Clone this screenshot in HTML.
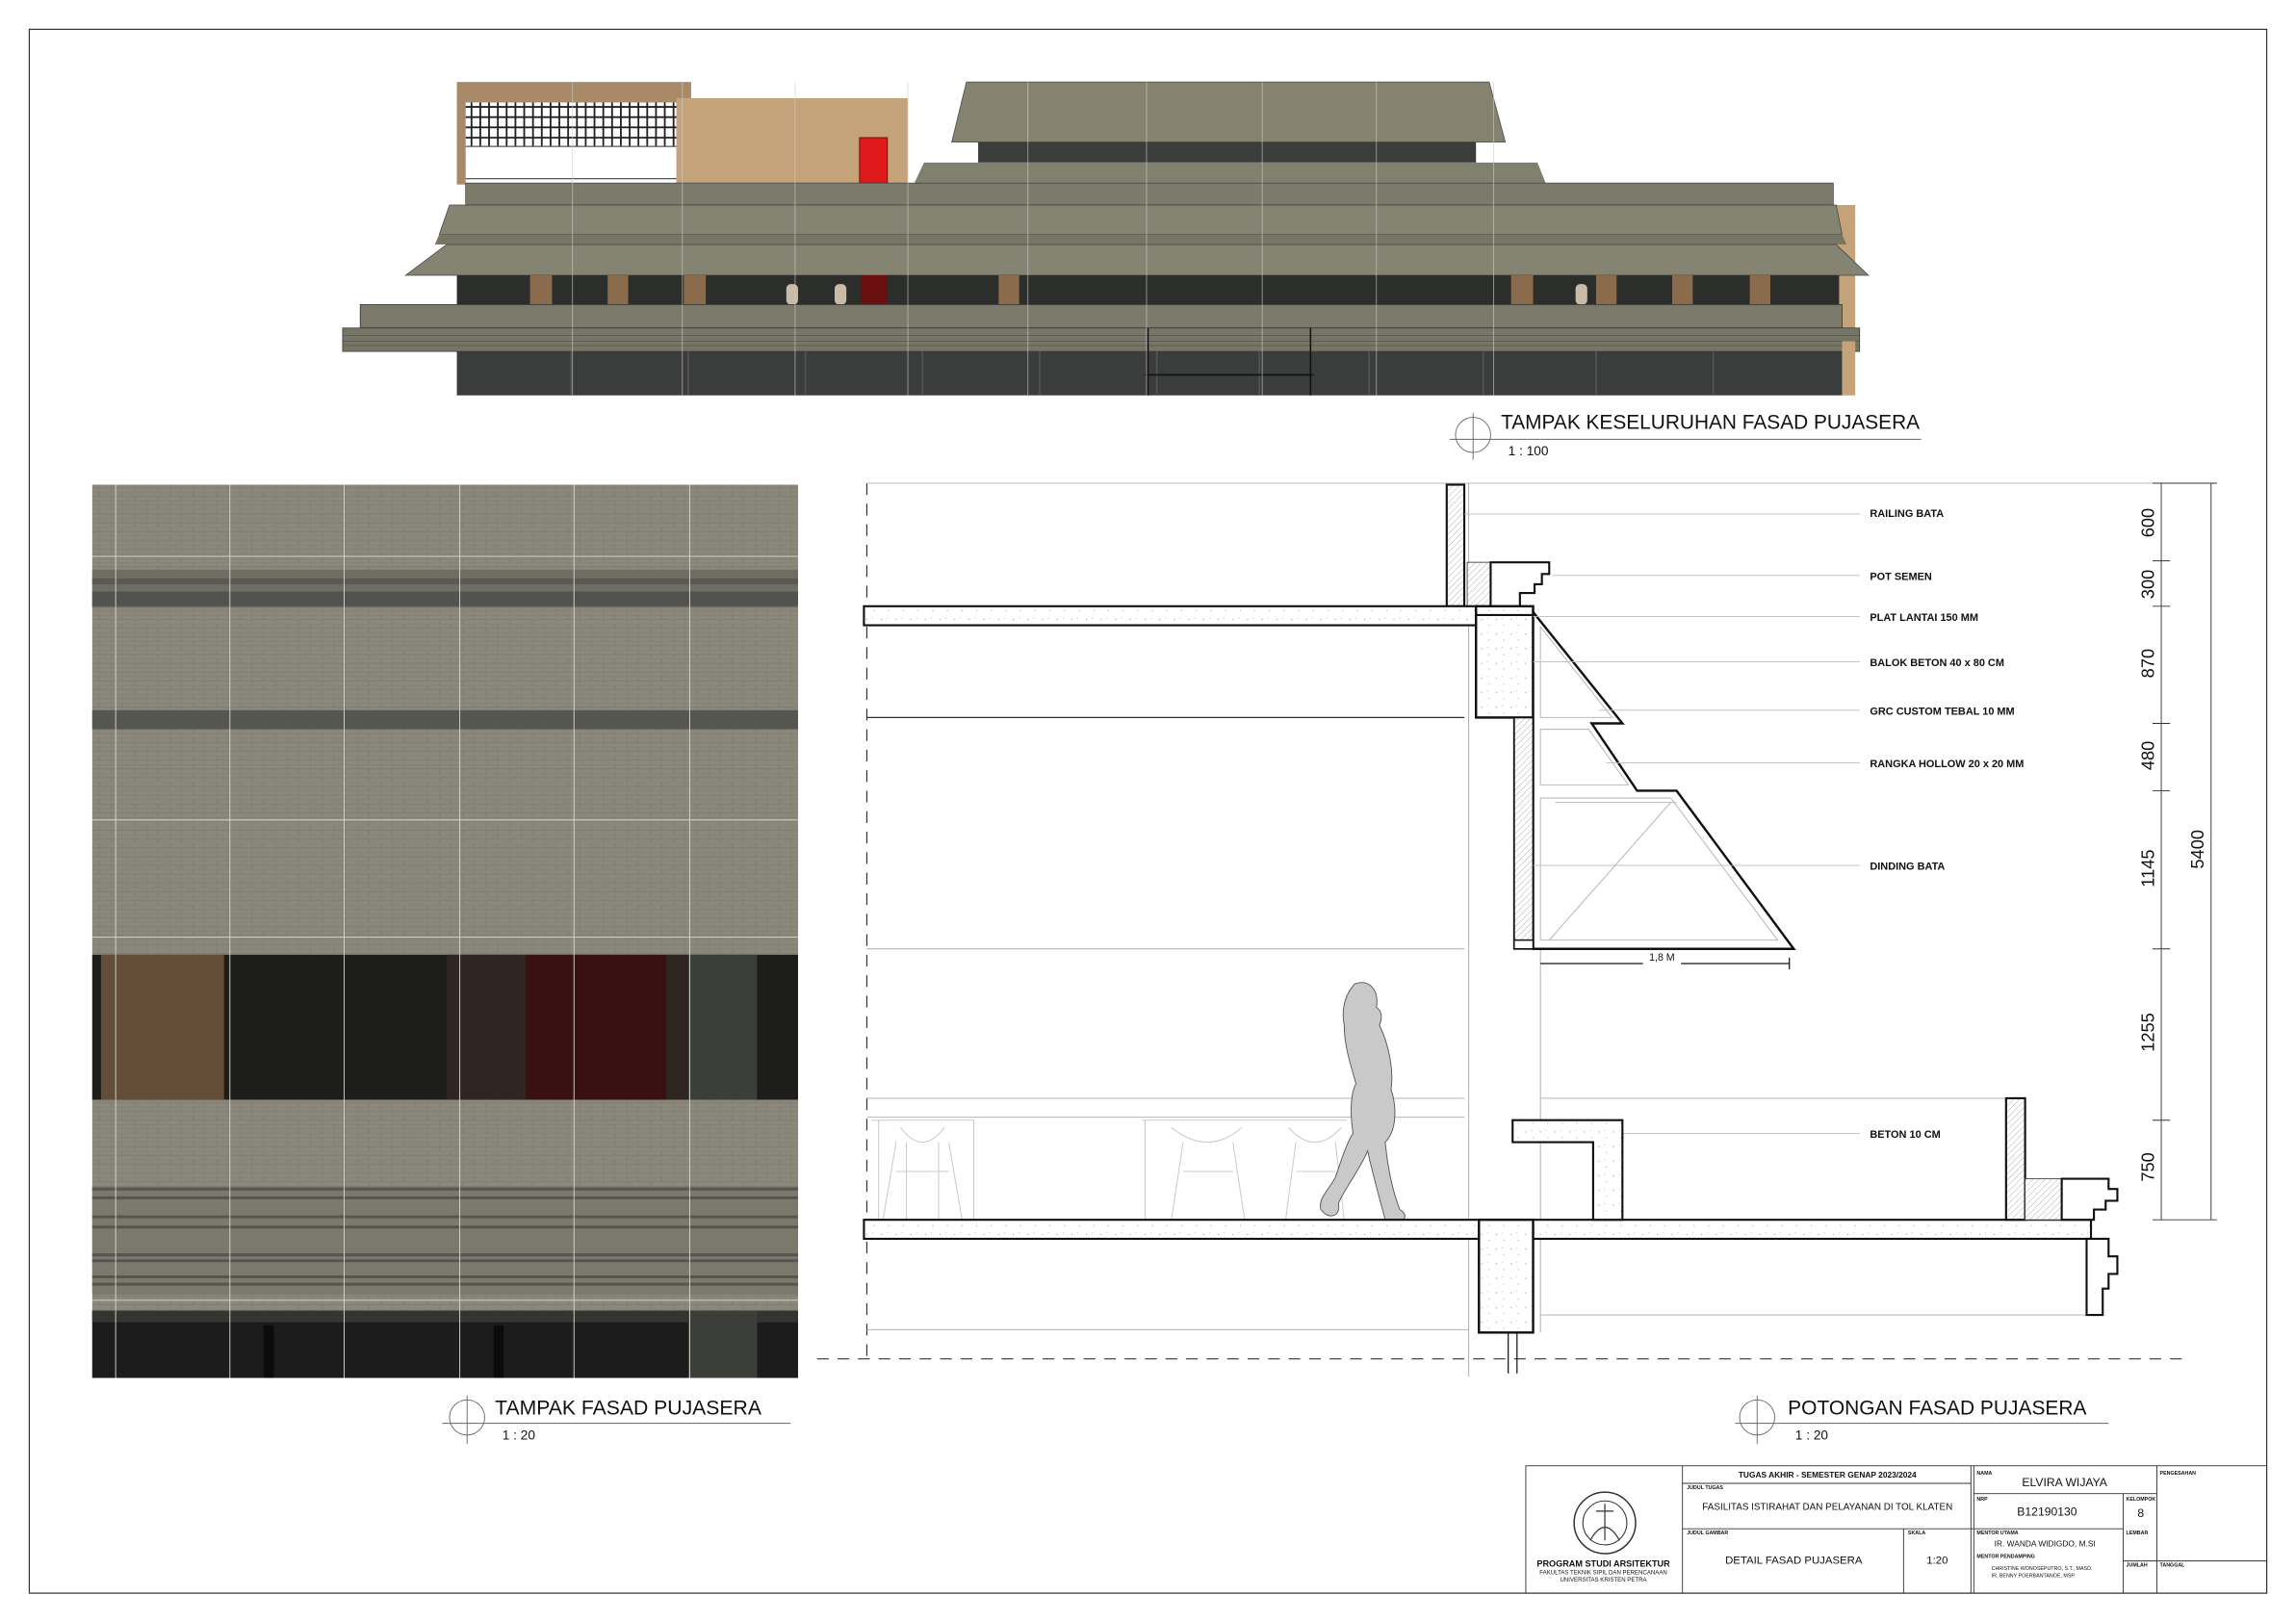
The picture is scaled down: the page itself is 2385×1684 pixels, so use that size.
<!DOCTYPE html>
<html><head><meta charset="utf-8"><style>
html,body{margin:0;padding:0;background:#fff;}
svg{display:block;}
text{font-family:"Liberation Sans",sans-serif;}
.lb{font-size:7.2px;font-weight:bold;fill:#111;}
.dim{font-size:12px;fill:#111;}
.ld{stroke:#bbb;stroke-width:0.6;}
</style></head><body>
<svg width="2385" height="1684" viewBox="0 0 1568 1107" preserveAspectRatio="none" xmlns="http://www.w3.org/2000/svg">
<defs>
<pattern id="brick" width="16" height="6" patternUnits="userSpaceOnUse">
<rect width="16" height="6" fill="#8a887a"/>
<path d="M0 0H16M0 3H16M4 0V3M12 3V6" stroke="#7d7b6e" stroke-width="0.5"/>
</pattern>
<pattern id="conc" width="10" height="10" patternUnits="userSpaceOnUse">
<rect width="10" height="10" fill="#fff"/>
<circle cx="2" cy="3" r="0.4" fill="#999"/><circle cx="7" cy="7" r="0.4" fill="#aaa"/><circle cx="6" cy="2" r="0.3" fill="#999"/>
</pattern>
<pattern id="hatch" width="3" height="3" patternUnits="userSpaceOnUse" patternTransform="rotate(45)">
<rect width="3" height="3" fill="#fff"/><line x1="0" y1="0" x2="0" y2="3" stroke="#999" stroke-width="0.5"/>
</pattern>
</defs>
<rect x="0" y="0" width="1568" height="1107" fill="#fff"/>
<rect x="20" y="20" width="1528" height="1068" fill="none" stroke="#333" stroke-width="0.8"/>

<!-- TOP ELEVATION -->
<g>
<rect x="312" y="56" width="160" height="70" fill="#a88a68"/>
<rect x="318" y="70" width="144" height="55" fill="#fff"/>
<g stroke="#222" stroke-width="1.2">
<path d="M318 73H462M318 80H462M318 87H462M318 94H462"/>
<path d="M322 70V100M328 70V100M334 70V100M340 70V100M346 70V100M352 70V100M358 70V100M364 70V100M370 70V100M376 70V100M382 70V100M388 70V100M394 70V100M400 70V100M406 70V100M412 70V100M418 70V100M424 70V100M430 70V100M436 70V100M442 70V100M448 70V100M454 70V100M460 70V100"/>
</g>
<path d="M318 100H462M318 122H462" stroke="#555" stroke-width="0.8"/>
<rect x="462" y="67" width="158" height="59" fill="#c5a37a"/>
<rect x="587" y="94" width="19" height="31" fill="#e01a1a" stroke="#700" stroke-width="0.6"/>
<polygon points="660,56 1017,56 1028,97 650,97" fill="#85836f" stroke="#555" stroke-width="0.6"/>
<rect x="668" y="97" width="340" height="14" fill="#3b3d3a"/>
<polygon points="631,111 1050,111 1056,126 624,126" fill="#80806e"/>
<rect x="318" y="125" width="934" height="15" fill="#7c7b6b" stroke="#444" stroke-width="0.5"/>
<rect x="1252" y="140" width="15" height="93" fill="#c5a37a"/>
<polygon points="307,140 1254,140 1258,160 300,160" fill="#858371" stroke="#444" stroke-width="0.5"/>
<polygon points="300,160 1258,160 1261,167 297,167" fill="#777665"/>
<polygon points="305,167 1254,167 1276,188 277,188" fill="#858371" stroke="#444" stroke-width="0.5"/>
<rect x="312" y="188" width="944" height="21" fill="#2c2e2c"/>
<g fill="#8a6c4c">
<rect x="362" y="188" width="15" height="20"/><rect x="415" y="188" width="14" height="20"/><rect x="467" y="188" width="15" height="20"/><rect x="682" y="188" width="14" height="20"/><rect x="1032" y="188" width="15" height="20"/><rect x="1090" y="188" width="14" height="20"/><rect x="1142" y="188" width="14" height="20"/><rect x="1195" y="188" width="14" height="20"/>
</g>
<rect x="588" y="188" width="18" height="20" fill="#6a1010"/>
<g fill="#c9bba5"><rect x="537" y="194" width="8" height="14" rx="3"/><rect x="570" y="194" width="8" height="14" rx="3"/><rect x="1076" y="194" width="8" height="14" rx="3"/></g>
<rect x="246" y="208" width="1012" height="16" fill="#7b7a6a" stroke="#333" stroke-width="0.5"/>
<rect x="234" y="224" width="1036" height="16" fill="#777665" stroke="#333" stroke-width="0.5"/>
<path d="M234 229H1270M234 233H1270M234 236H1270" stroke="#555" stroke-width="0.5"/>
<rect x="312" y="240" width="946" height="30" fill="#3b3c3c"/>
<rect x="1258" y="233" width="9" height="37" fill="#c5a37a"/>
<g stroke="#555" stroke-width="1"><path d="M390 240V270M470 240V270M550 240V270M630 240V270M710 240V270M790 240V270M860 240V270M935 240V270M1013 240V270M1090 240V270M1170 240V270"/></g>
<path d="M784 224V270M895 224V270M782 256H897" stroke="#111" stroke-width="1"/>
<g stroke="#ccc" stroke-width="0.5" opacity="0.8"><path d="M391 56V270M466 56V270M543 56V270M620 56V270M702 56V270M783 56V270M862 56V270M940 56V270M1020 56V270"/></g>
</g>
<circle cx="1006" cy="297" r="12" fill="none" stroke="#666" stroke-width="0.6"/>
<path d="M990 300H1312M1006 282V314" stroke="#666" stroke-width="0.6"/>
<text x="1025" y="293" font-size="14" fill="#111" textLength="286" lengthAdjust="spacingAndGlyphs">TAMPAK KESELURUHAN FASAD PUJASERA</text>
<text x="1030" y="311" font-size="9" fill="#111">1 : 100</text>

<!-- LEFT FACADE PANEL -->
<g>
<rect x="63" y="331" width="482" height="610" fill="url(#brick)"/>
<rect x="63" y="389" width="482" height="26" fill="#6e6d62"/>
<rect x="63" y="395" width="482" height="4" fill="#5a5a53"/>
<rect x="63" y="404" width="482" height="10" fill="#525350"/>
<rect x="63" y="485" width="482" height="13" fill="#555650"/>
<rect x="63" y="652" width="482" height="99" fill="#1d1d1c"/>
<rect x="69" y="652" width="84" height="99" fill="#634d38"/>
<rect x="305" y="652" width="54" height="99" fill="#302621"/>
<rect x="359" y="652" width="96" height="99" fill="#3a1112"/>
<rect x="455" y="652" width="15" height="99" fill="#2f2520"/>
<rect x="470" y="652" width="47" height="99" fill="#3c3e39"/>
<rect x="63" y="810" width="482" height="74" fill="#7a796c"/>
<path d="M63 812H545M63 818H545M63 831H545M63 838H545M63 857H545M63 861H545M63 872H545M63 877H545" stroke="#565650" stroke-width="2"/>
<rect x="63" y="895" width="482" height="46" fill="#1c1c1c"/>
<rect x="63" y="895" width="482" height="8" fill="#333531"/>
<rect x="470" y="895" width="47" height="46" fill="#3c3e39"/>
<rect x="180" y="905" width="7" height="36" fill="#0b0b0b"/><rect x="337" y="905" width="7" height="36" fill="#0b0b0b"/>
<g stroke="#d8d8d0" stroke-width="0.6"><path d="M79 331V941M157 331V941M235 331V941M314 331V941M392 331V941M471 331V941"/><path d="M63 380H545M63 560H545M63 640H545M63 888H545"/></g>
</g>
<circle cx="319" cy="968" r="12" fill="none" stroke="#666" stroke-width="0.6"/>
<path d="M302 972H540M319 953V986" stroke="#666" stroke-width="0.6"/>
<text x="338" y="966" font-size="14" fill="#111" textLength="182" lengthAdjust="spacingAndGlyphs">TAMPAK FASAD PUJASERA</text>
<text x="343" y="983" font-size="9" fill="#111">1 : 20</text>

<!-- SECTION -->
<g fill="none">
<path d="M592 330V930" stroke="#333" stroke-width="0.8" stroke-dasharray="8 6"/>
<path d="M592 330H1510" stroke="#bbb" stroke-width="0.6"/>
<path d="M558 928H1494" stroke="#333" stroke-width="0.8" stroke-dasharray="8 6"/>
<path d="M1003 330V940M1052 490V910" stroke="#aaa" stroke-width="0.6"/>
<path d="M592 490H1000" stroke="#333" stroke-width="0.8"/>
<path d="M592 648H1000M592 750H1000M1052 750H1370M592 763H1000M592 908H1003M1052 898H1425" stroke="#aaa" stroke-width="0.6"/>
<path d="M1476 330V833M1510 330V833M1470 330H1514M1470 383H1482M1470 414H1482M1470 494H1482M1470 540H1482M1470 648H1482M1470 765H1482M1470 833H1514" stroke="#333" stroke-width="0.6"/>
</g>
<g class="dim">
<text transform="translate(1471,357) rotate(-90)" text-anchor="middle">600</text>
<text transform="translate(1471,399) rotate(-90)" text-anchor="middle">300</text>
<text transform="translate(1471,453) rotate(-90)" text-anchor="middle">870</text>
<text transform="translate(1471,516) rotate(-90)" text-anchor="middle">480</text>
<text transform="translate(1471,593) rotate(-90)" text-anchor="middle">1145</text>
<text transform="translate(1471,705) rotate(-90)" text-anchor="middle">1255</text>
<text transform="translate(1471,797) rotate(-90)" text-anchor="middle">750</text>
<text transform="translate(1505,580) rotate(-90)" text-anchor="middle">5400</text>
</g>
<rect x="988" y="331" width="12" height="83" fill="url(#hatch)" stroke="#111" stroke-width="1.4"/>
<rect x="1002" y="384" width="16" height="30" fill="url(#hatch)" stroke="#444" stroke-width="0.6"/>
<polygon points="1018,384 1058,384 1058,392 1053,392 1053,399 1048,399 1048,405 1038,405 1038,414 1018,414" fill="#fff" stroke="#111" stroke-width="1.4"/>
<rect x="590" y="414" width="420" height="13" fill="url(#conc)" stroke="#111" stroke-width="1.4"/>
<rect x="1008" y="414" width="39" height="76" fill="url(#conc)" stroke="#111" stroke-width="1.6"/>
<path d="M1008 420H1047" stroke="#111" stroke-width="1.4"/>
<polygon points="1047,418 1108,494 1087,494 1118,540 1145,540 1225,648 1047,648" fill="#fff" stroke="#111" stroke-width="1.6"/>
<g stroke="#bbb" stroke-width="0.7" fill="none">
<path d="M1052 428L1101 490H1052ZM1052 498H1085L1112 536H1052ZM1052 545H1141L1214 642H1052ZM1141 548L1058 642M1062 548L1145 548"/>
</g>
<rect x="1034" y="490" width="13" height="158" fill="url(#hatch)" stroke="#111" stroke-width="1.2"/>
<rect x="1034" y="642" width="13" height="6" fill="#fff" stroke="#111" stroke-width="1"/>
<path d="M1052 658H1122M1148 658H1222M1222 654V662" stroke="#111" stroke-width="0.8"/>
<text x="1135" y="656" font-size="7" text-anchor="middle" fill="#111">1,8 M</text>
<g class="ld">
<path d="M1000 351H1270M1060 393H1270M1047 421H1270M1047 452H1270M1092 485H1270M1097 521H1270M1047 591H1270M1108 774H1270"/>
</g>
<g class="lb">
<text x="1277" y="353">RAILING BATA</text>
<text x="1277" y="396">POT SEMEN</text>
<text x="1277" y="424">PLAT LANTAI 150 MM</text>
<text x="1277" y="455">BALOK BETON 40 x 80 CM</text>
<text x="1277" y="488">GRC CUSTOM TEBAL 10 MM</text>
<text x="1277" y="524">RANGKA HOLLOW 20 x 20 MM</text>
<text x="1277" y="594">DINDING BATA</text>
<text x="1277" y="777">BETON 10 CM</text>
</g>
<g stroke="#ccc" stroke-width="0.7" fill="none">
<path d="M595 765H665V833M600 765V833M615 770Q630 790 645 770M612 780L603 833M648 780L657 833M612 800H648M619 780V833M641 780V833"/>
<path d="M780 765H920M782 765V833M800 770Q825 790 848 770M808 780L800 833M842 780L850 833M808 800H842M880 770Q898 790 916 770M885 780L878 833M912 780L918 833M885 800H912"/>
</g>
<path d="M925 672C935 668 942 676 940 688C944 690 944 696 942 700C948 712 952 730 950 744C954 756 954 772 946 780C948 800 952 816 956 826C962 830 960 834 952 834L946 833C942 818 937 800 934 786C928 800 918 812 914 822C916 830 908 834 902 826C900 818 908 812 912 804C916 792 920 780 924 774C922 760 922 748 926 740C922 726 918 714 918 700C916 690 918 680 925 672Z" fill="#c9c9c9" stroke="#555" stroke-width="0.6"/>
<rect x="590" y="833" width="838" height="13" fill="url(#conc)" stroke="#111" stroke-width="1.4"/>
<rect x="1010" y="833" width="37" height="77" fill="url(#conc)" stroke="#111" stroke-width="1.6"/>
<path d="M1030 910V938M1036 910V938" stroke="#111" stroke-width="0.8"/>
<polygon points="1033,765 1108,765 1108,833 1088,833 1088,780 1033,780" fill="url(#conc)" stroke="#111" stroke-width="1.4"/>
<rect x="1370" y="750" width="13" height="83" fill="url(#hatch)" stroke="#111" stroke-width="1.4"/>
<rect x="1383" y="805" width="25" height="28" fill="url(#hatch)" stroke="#444" stroke-width="0.6"/>
<polygon points="1408,805 1440,805 1440,812 1446,812 1446,820 1438,820 1438,826 1430,826 1430,833 1408,833" fill="#fff" stroke="#111" stroke-width="1.4"/>
<polygon points="1425,846 1440,846 1440,858 1446,858 1446,870 1440,870 1440,880 1436,880 1436,898 1425,898" fill="#fff" stroke="#111" stroke-width="1.4"/>
<circle cx="1200" cy="968" r="12" fill="none" stroke="#666" stroke-width="0.6"/>
<path d="M1185 972H1440M1200 953V986" stroke="#666" stroke-width="0.6"/>
<text x="1221" y="966" font-size="14" fill="#111" textLength="204" lengthAdjust="spacingAndGlyphs">POTONGAN FASAD PUJASERA</text>
<text x="1226" y="983" font-size="9" fill="#111">1 : 20</text>

<!-- TITLE BLOCK -->
<g fill="none" stroke="#333" stroke-width="0.6">
<rect x="1042" y="1001" width="506" height="87"/>
<path d="M1149 1001V1088M1346 1001V1088M1348 1001V1088M1450 1020V1088M1473 1001V1088M1300 1044V1088"/>
<path d="M1149 1044H1450M1348 1020H1473M1450 1066H1473M1473 1066H1548M1149 1013H1346"/>
</g>
<circle cx="1096" cy="1040" r="21" fill="none" stroke="#333" stroke-width="1"/>
<circle cx="1096" cy="1040" r="15" fill="none" stroke="#333" stroke-width="0.7"/>
<path d="M1096 1027V1052M1090 1032H1102M1086 1052Q1096 1034 1106 1052" fill="none" stroke="#333" stroke-width="0.8"/>
<g fill="#111">
<text x="1095" y="1070" font-size="6" font-weight="bold" text-anchor="middle">PROGRAM STUDI ARSITEKTUR</text>
<text x="1095" y="1075" font-size="4" text-anchor="middle">FAKULTAS TEKNIK SIPIL DAN PERENCANAAN</text>
<text x="1095" y="1080" font-size="4" text-anchor="middle">UNIVERSITAS KRISTEN PETRA</text>
<text x="1248" y="1009" font-size="5.5" font-weight="bold" text-anchor="middle">TUGAS AKHIR - SEMESTER GENAP 2023/2024</text>
<text x="1152" y="1017" font-size="3.5" font-weight="bold">JUDUL TUGAS</text>
<text x="1248" y="1031" font-size="6.5" text-anchor="middle">FASILITAS ISTIRAHAT DAN PELAYANAN DI TOL KLATEN</text>
<text x="1152" y="1048" font-size="3.5" font-weight="bold">JUDUL GAMBAR</text>
<text x="1225" y="1068" font-size="7.5" text-anchor="middle">DETAIL FASAD PUJASERA</text>
<text x="1303" y="1048" font-size="3.5" font-weight="bold">SKALA</text>
<text x="1323" y="1068" font-size="7.5" text-anchor="middle">1:20</text>
<text x="1350" y="1007" font-size="3.5" font-weight="bold">NAMA</text>
<text x="1410" y="1015" font-size="8" text-anchor="middle">ELVIRA WIJAYA</text>
<text x="1350" y="1025" font-size="3.5" font-weight="bold">NRP</text>
<text x="1398" y="1035" font-size="8" text-anchor="middle">B12190130</text>
<text x="1452" y="1025" font-size="3.5" font-weight="bold">KELOMPOK</text>
<text x="1462" y="1036" font-size="8" text-anchor="middle">8</text>
<text x="1350" y="1048" font-size="3.5" font-weight="bold">MENTOR UTAMA</text>
<text x="1362" y="1056" font-size="5.5">IR. WANDA WIDIGDO, M.SI</text>
<text x="1350" y="1064" font-size="3.5" font-weight="bold">MENTOR PENDAMPING</text>
<text x="1360" y="1072" font-size="3.5">CHRISTINE WONOSEPUTRO, S.T., MASD.</text>
<text x="1360" y="1077" font-size="3.5">IR. BENNY POERBANTANOE, MSP.</text>
<text x="1452" y="1048" font-size="3.5" font-weight="bold">LEMBAR</text>
<text x="1452" y="1070" font-size="3.5" font-weight="bold">JUMLAH</text>
<text x="1475" y="1007" font-size="3.5" font-weight="bold">PENGESAHAN</text>
<text x="1475" y="1070" font-size="3.5" font-weight="bold">TANGGAL</text>
</g>
</svg>
</body></html>
